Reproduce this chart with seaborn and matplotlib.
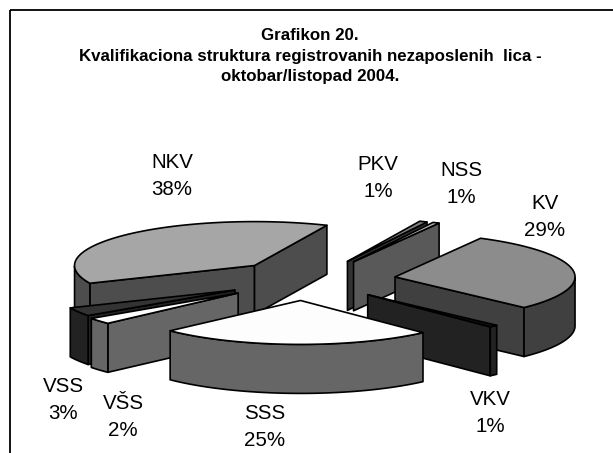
import numpy as np
import matplotlib
matplotlib.use('Agg')
import matplotlib.pyplot as plt
from matplotlib.patches import Rectangle
import seaborn as sns

# redoslijed kao u pie-u, u smjeru kazaljke od prvog kriska
categories = ['PKV', 'NSS', 'KV', 'VKV', 'SSS', 'VŠS', 'VSS', 'NKV']
shares = [0.7, 0.6, 29.4, 0.8, 24.8, 2.3, 3.2, 38.2]
top_colors = ['#7F7F7F', '#B0B0B0', '#8C8C8C', '#111111', '#FDFDFD', '#FDFDFD', '#333333', '#A6A6A6']
side_colors = ['#333333', '#595959', '#404040', '#222222', '#666666', '#666666', '#222222', '#4D4D4D']
label_pos = [(378, 178), (461, 184), (545, 217), (490, 413), (265, 427), (123, 417), (63, 400), (172, 176)]
nudge_x = [0, 3, 0, -3, -9, -9, -4, 2]

first_angle = 66.3
cx, cy = 312, 280
radius, squash = 180, 0.244
depth = 49
explode = 84

sns.set_theme(style='white')
plt.rcParams['font.family'] = ['Liberation Sans', 'DejaVu Sans']

fig = plt.figure(figsize=(6.13, 4.53), dpi=100)
ax = fig.add_axes([0, 0, 1, 1])
ax.set_xlim(0, 613)
ax.set_ylim(453, 0)
ax.axis('off')
ax.add_patch(Rectangle((10, 10), 700, 500, fill=False, ec='black', lw=1.3))


def rim_xy(ang, ox, oy):
    return ox + radius * np.cos(ang), oy - radius * squash * np.sin(ang)


slices = []
start = first_angle
for i, s in enumerate(shares):
    end = start - s * 3.6
    mid = np.radians((start + end) / 2)
    ox = cx + explode * np.cos(mid) + nudge_x[i]
    oy = cy - explode * squash * np.sin(mid)
    slices.append((oy, i, ox, np.radians(start), np.radians(end)))
    start = end

# od nazad prema naprijed
for oy, i, ox, a1, a2 in sorted(slices):
    ang = np.linspace(a1, a2, 120)
    x, y = rim_xy(ang, ox, oy)
    side = side_colors[i]
    style = dict(ec='black', lw=1.2, joinstyle='round')
    if np.cos(a1) < 0:
        ex, ey = rim_xy(a1, ox, oy)
        ax.fill([ox, ex, ex, ox], [oy, ey, ey + depth, oy + depth], fc=side, **style)
    if np.cos(a2) > 0:
        ex, ey = rim_xy(a2, ox, oy)
        ax.fill([ox, ex, ex, ox], [oy, ey, ey + depth, oy + depth], fc=side, **style)
    front = np.sin(ang) <= 0
    if front.any():
        xf, yf = x[front], y[front]
        ax.fill(np.r_[xf, xf[::-1]], np.r_[yf, yf[::-1] + depth], fc=side, **style)
    ax.fill(np.r_[ox, x], np.r_[oy, y], fc=top_colors[i], **style)

for name, s, (lx, ly) in zip(categories, shares, label_pos):
    ax.text(lx, ly, f'{name}\n{round(s)}%', ha='center', va='center', fontsize=14.8,
            linespacing=1.5, color='black')

title = ('Grafikon 20.\nKvalifikaciona struktura registrovanih nezaposlenih  lica -\n'
         'oktobar/listopad 2004.')
ax.text(310, 56, title, ha='center', va='center', fontsize=12.2, fontweight='bold',
        linespacing=1.5, color='black')

fig.savefig('out.png', dpi=100)
